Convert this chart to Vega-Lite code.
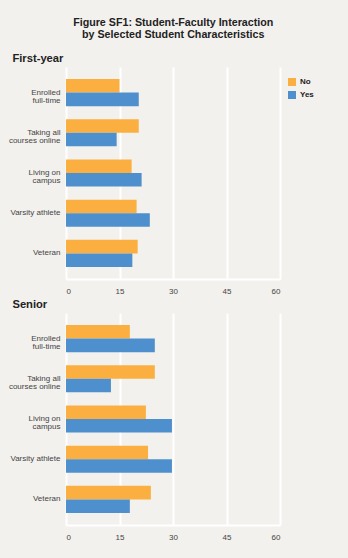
{
  "$schema": "https://vega.github.io/schema/vega-lite/v6.json",
  "background": "#f3f1ed",
  "padding": {"left": 8, "top": 16, "right": 34, "bottom": 17},
  "title": {
    "text": ["Figure SF1: Student-Faculty Interaction", "by Selected Student Characteristics"],
    "font": "Liberation Sans",
    "fontSize": 10.7,
    "fontWeight": "bold",
    "lineHeight": 12.5,
    "color": "#222222",
    "anchor": "middle",
    "dx": 12,
    "offset": 12
  },
  "datasets": {
    "sf1": [
      {"panel": "First-year", "category": "Enrolled full-time", "group": "No", "value": 15.0},
      {"panel": "First-year", "category": "Enrolled full-time", "group": "Yes", "value": 20.4},
      {"panel": "First-year", "category": "Taking all courses online", "group": "No", "value": 20.4},
      {"panel": "First-year", "category": "Taking all courses online", "group": "Yes", "value": 14.2},
      {"panel": "First-year", "category": "Living on campus", "group": "No", "value": 18.4},
      {"panel": "First-year", "category": "Living on campus", "group": "Yes", "value": 21.2},
      {"panel": "First-year", "category": "Varsity athlete", "group": "No", "value": 19.8},
      {"panel": "First-year", "category": "Varsity athlete", "group": "Yes", "value": 23.5},
      {"panel": "First-year", "category": "Veteran", "group": "No", "value": 20.1},
      {"panel": "First-year", "category": "Veteran", "group": "Yes", "value": 18.6},
      {"panel": "Senior", "category": "Enrolled full-time", "group": "No", "value": 17.9},
      {"panel": "Senior", "category": "Enrolled full-time", "group": "Yes", "value": 24.9},
      {"panel": "Senior", "category": "Taking all courses online", "group": "No", "value": 24.9},
      {"panel": "Senior", "category": "Taking all courses online", "group": "Yes", "value": 12.6},
      {"panel": "Senior", "category": "Living on campus", "group": "No", "value": 22.4},
      {"panel": "Senior", "category": "Living on campus", "group": "Yes", "value": 29.7},
      {"panel": "Senior", "category": "Varsity athlete", "group": "No", "value": 23.0},
      {"panel": "Senior", "category": "Varsity athlete", "group": "Yes", "value": 29.7},
      {"panel": "Senior", "category": "Veteran", "group": "No", "value": 23.8},
      {"panel": "Senior", "category": "Veteran", "group": "Yes", "value": 17.9}
    ]
  },
  "config": {
    "view": {"stroke": null},
    "font": "Liberation Sans",
    "axis": {
      "labelFont": "Liberation Sans",
      "labelColor": "#444444",
      "labelFontSize": 8,
      "ticks": false,
      "title": null
    },
    "title": {"font": "Liberation Sans"}
  },
  "spacing": 3,
  "resolve": {"legend": {"color": "independent"}},
  "vconcat": [
    {
      "title": {"text": "First-year", "anchor": "start", "frame": "bounds", "fontSize": 11.2, "fontWeight": "bold", "color": "#222222", "offset": 3, "dx": 4},
      "width": 214,
      "height": 212,
      "data": {"name": "sf1"},
      "transform": [{"filter": "datum.panel == 'First-year'"}],
      "mark": {"type": "bar"},
      "encoding": {
        "y": {
          "field": "category",
          "type": "nominal",
          "sort": ["Enrolled full-time", "Taking all courses online", "Living on campus", "Varsity athlete", "Veteran"],
          "scale": {"paddingInner": 0.325, "paddingOuter": 0.3},
          "axis": {
            "domain": false,
            "grid": false,
            "labelPadding": 6,
            "labelLineHeight": 8,
            "labelExpr": "datum.value == 'Enrolled full-time' ? ['Enrolled', 'full-time'] : datum.value == 'Taking all courses online' ? ['Taking all', 'courses online'] : datum.value == 'Living on campus' ? ['Living on', 'campus'] : datum.value"
          }
        },
        "yOffset": {"field": "group", "type": "nominal", "sort": ["No", "Yes"]},
        "x": {
          "field": "value",
          "type": "quantitative",
          "scale": {"domain": [0, 60]},
          "axis": {
            "values": [0, 15, 30, 45, 60],
            "grid": true,
            "gridColor": "#ffffff",
            "gridWidth": 2,
            "gridOpacity": 1,
            "domain": true,
            "domainColor": "#ffffff",
            "domainWidth": 2,
            "labelPadding": 8
          }
        },
        "color": {
          "field": "group",
          "type": "nominal",
          "scale": {"domain": ["No", "Yes"], "range": ["#fbaf41", "#4e8fce"]},
          "legend": {
            "title": null,
            "orient": "none",
            "legendX": 222,
            "legendY": 11,
            "padding": 0,
            "symbolType": "square",
            "symbolSize": 64,
            "symbolStrokeWidth": 0,
            "symbolOpacity": 1,
            "labelFont": "Liberation Sans",
            "labelFontSize": 8,
            "labelFontWeight": "bold",
            "labelColor": "#222222",
            "labelOffset": 4,
            "rowPadding": 5
          }
        }
      }
    },
    {
      "title": {"text": "Senior", "anchor": "start", "frame": "bounds", "fontSize": 11.2, "fontWeight": "bold", "color": "#222222", "offset": 3, "dx": 4},
      "width": 214,
      "height": 212,
      "data": {"name": "sf1"},
      "transform": [{"filter": "datum.panel == 'Senior'"}],
      "mark": {"type": "bar"},
      "encoding": {
        "y": {
          "field": "category",
          "type": "nominal",
          "sort": ["Enrolled full-time", "Taking all courses online", "Living on campus", "Varsity athlete", "Veteran"],
          "scale": {"paddingInner": 0.325, "paddingOuter": 0.3},
          "axis": {
            "domain": false,
            "grid": false,
            "labelPadding": 6,
            "labelLineHeight": 8,
            "labelExpr": "datum.value == 'Enrolled full-time' ? ['Enrolled', 'full-time'] : datum.value == 'Taking all courses online' ? ['Taking all', 'courses online'] : datum.value == 'Living on campus' ? ['Living on', 'campus'] : datum.value"
          }
        },
        "yOffset": {"field": "group", "type": "nominal", "sort": ["No", "Yes"]},
        "x": {
          "field": "value",
          "type": "quantitative",
          "scale": {"domain": [0, 60]},
          "axis": {
            "values": [0, 15, 30, 45, 60],
            "grid": true,
            "gridColor": "#ffffff",
            "gridWidth": 2,
            "gridOpacity": 1,
            "domain": true,
            "domainColor": "#ffffff",
            "domainWidth": 2,
            "labelPadding": 8
          }
        },
        "color": {
          "field": "group",
          "type": "nominal",
          "scale": {"domain": ["No", "Yes"], "range": ["#fbaf41", "#4e8fce"]},
          "legend": null
        }
      }
    }
  ]
}
